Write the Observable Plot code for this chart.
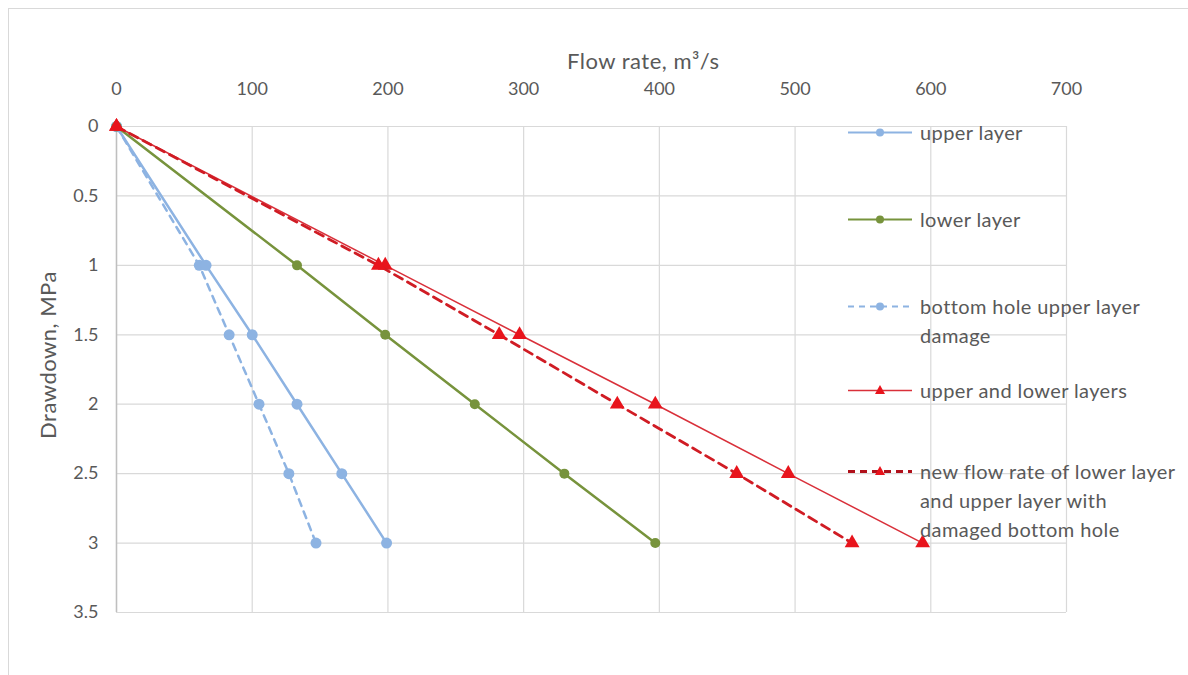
<!DOCTYPE html>
<html>
<head>
<meta charset="utf-8">
<script src="https://cdn.jsdelivr.net/npm/d3@7"></script>
<script src="https://cdn.jsdelivr.net/npm/@observablehq/plot@0.6"></script>
<style>
  html, body { margin: 0; padding: 0; background: #fff; }
  #wrap { position: relative; width: 1188px; height: 675px; overflow: hidden; font-family: Lato, "Open Sans", sans-serif; }
  #border { position: absolute; left: 8px; top: 8px; width: 1200px; height: 700px; border-top: 1.5px solid #d9d9d9; border-left: 1.5px solid #d9d9d9; }
  #chart { position: absolute; left: 0; top: 0; }
  .title { position: absolute; color: #595959; font-size: 22px; letter-spacing: 0.5px; white-space: nowrap; line-height: 26px; }
  #xtitle { left: 567px; top: 48px; }
  #ytitle { left: 48px; top: 355px; transform: translate(-50%, -50%) rotate(-90deg); }
  #legend { position: absolute; left: 846px; top: 0; }
  .item { position: absolute; left: 0; display: flex; align-items: flex-start; }
  .item svg { flex: none; margin-top: 0px; }
  .item span { color: #595959; font-size: 20px; letter-spacing: 0.4px; line-height: 29px; margin-left: 6px; white-space: nowrap; }
</style>
</head>
<body>
<div id="wrap">
  <div id="border"></div>
  <div id="chart"></div>
  <div id="xtitle" class="title">Flow rate, m³/s</div>
  <div id="ytitle" class="title">Drawdown, MPa</div>
  <div id="legend"></div>
</div>
<script>
// Drawdown, MPa (y) for each measured point
const drawdown = [0, 1, 1.5, 2, 2.5, 3];
// Flow rate, m3/s (x) for each series
const upperLayer = [0, 66, 100, 133, 166, 199];
const lowerLayer = [0, 133, 198, 264, 330, 397];
const damagedUpper = [0, 61, 83, 105, 127, 147];
const combined = [0, 198, 297, 397, 495, 594];
const combinedDamaged = [0, 193, 282, 369, 457, 542];

const xTicks = [0, 100, 200, 300, 400, 500, 600, 700];
const yTicks = [0, 0.5, 1, 1.5, 2, 2.5, 3, 3.5];

const seriesNames = [
  "upper layer",
  "lower layer",
  "bottom hole upper layer damage",
  "upper and lower layers",
  "new flow rate of lower layer and upper layer with damaged bottom hole"
];

const blue = "#8db3e2", green = "#77933c", red = "#e8141c", redLine = "#d9303a", redDash = "#d01c24";

const toRows = (vals) => vals.map((q, i) => ({q, d: drawdown[i]}));

const U = toRows(upperLayer), L = toRows(lowerLayer), D = toRows(damagedUpper),
      C = toRows(combined), CD = toRows(combinedDamaged);

const plot = Plot.plot({
  width: 1188,
  height: 675,
  marginLeft: 116,
  marginRight: 122,
  marginTop: 126,
  marginBottom: 63,
  style: {fontFamily: "Lato, 'Open Sans', sans-serif", fontSize: "18px", color: "#595959", background: "transparent", overflow: "visible"},
  x: {domain: [0, 700]},
  y: {domain: [0, 3.5], reverse: true},
  marks: [
    Plot.gridX(xTicks, {stroke: "#d9d9d9", strokeOpacity: 1, strokeWidth: 1.2}),
    Plot.gridY(yTicks, {stroke: "#d9d9d9", strokeOpacity: 1, strokeWidth: 1.2}),
    Plot.ruleX([0], {stroke: "#bfbfbf", strokeWidth: 1.5}),
    Plot.axisX(xTicks, {anchor: "top", tickSize: 0, tickPadding: 32, label: null, fill: "#595959", fontSize: 18, tickFormat: d => String(d)}),
    Plot.axisY(yTicks, {anchor: "left", tickSize: 0, tickPadding: 18, label: null, fill: "#595959", fontSize: 18, tickFormat: d => String(d)}),
    // bottom hole upper layer damage
    Plot.line(D, {x: "q", y: "d", stroke: blue, strokeWidth: 2.5, strokeDasharray: "7,6"}),
    Plot.dot(D, {x: "q", y: "d", r: 5.5, fill: blue}),
    // upper layer
    Plot.line(U, {x: "q", y: "d", stroke: blue, strokeWidth: 2.5}),
    Plot.dot(U, {x: "q", y: "d", r: 5.5, fill: blue}),
    // lower layer
    Plot.line(L, {x: "q", y: "d", stroke: green, strokeWidth: 2.5}),
    Plot.dot(L, {x: "q", y: "d", r: 5, fill: green}),
    // upper and lower layers
    Plot.line(C, {x: "q", y: "d", stroke: redLine, strokeWidth: 1.5}),
    Plot.dot(C, {x: "q", y: "d", symbol: "triangle", r: 5.5, fill: red}),
    // new flow rate
    Plot.line(CD, {x: "q", y: "d", stroke: redDash, strokeWidth: 2.8, strokeDasharray: "9,6"}),
    Plot.dot(CD, {x: "q", y: "d", symbol: "triangle", r: 5.5, fill: red})
  ]
});
document.getElementById("chart").appendChild(plot);

// Legend
const legendItems = [
  {lines: ["upper layer"], top: 118, color: blue, dash: null, width: 2, marker: "circle"},
  {lines: ["lower layer"], top: 205, color: green, dash: null, width: 2, marker: "circle"},
  {lines: ["bottom hole upper layer", "damage"], top: 292, color: blue, dash: "6,5", width: 2, marker: "circle"},
  {lines: ["upper and lower layers"], top: 376, color: redLine, dash: null, width: 1.5, marker: "triangle"},
  {lines: ["new flow rate of lower layer", "and upper layer with", "damaged bottom hole"], top: 457, color: "#b0101a", dash: "7,5", width: 2.8, marker: "triangle"}
];
const legend = document.getElementById("legend");
legendItems.forEach((it, i) => {
  const div = document.createElement("div");
  div.className = "item";
  div.style.top = it.top + "px";
  const ns = "http://www.w3.org/2000/svg";
  const svg = document.createElementNS(ns, "svg");
  svg.setAttribute("width", 68); svg.setAttribute("height", 29);
  const ln = document.createElementNS(ns, "line");
  ln.setAttribute("x1", 2); ln.setAttribute("x2", 66); ln.setAttribute("y1", 14.5); ln.setAttribute("y2", 14.5);
  ln.setAttribute("stroke", it.color); ln.setAttribute("stroke-width", it.width);
  if (it.dash) ln.setAttribute("stroke-dasharray", it.dash);
  svg.appendChild(ln);
  let mk;
  if (it.marker === "circle") {
    mk = document.createElementNS(ns, "circle");
    mk.setAttribute("cx", 34); mk.setAttribute("cy", 14.5); mk.setAttribute("r", 4);
    mk.setAttribute("fill", it.color === green ? green : blue);
  } else {
    mk = document.createElementNS(ns, "path");
    mk.setAttribute("d", "M34,9 L39,18 L29,18 Z");
    mk.setAttribute("fill", red);
  }
  svg.appendChild(mk);
  div.appendChild(svg);
  const span = document.createElement("span");
  span.innerHTML = it.lines.join("<br>");
  span.title = seriesNames[i];
  div.appendChild(span);
  legend.appendChild(div);
});
</script>
</body>
</html>
